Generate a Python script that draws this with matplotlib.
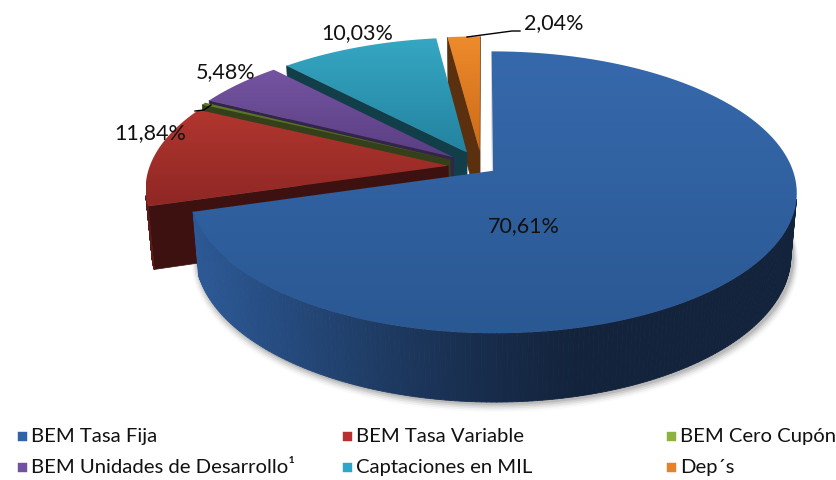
import numpy as np
import matplotlib.pyplot as plt
from matplotlib.patches import Polygon, Rectangle
from matplotlib.collections import PolyCollection
from matplotlib.colors import to_rgb

categories = ["BEM Tasa Fija", "BEM Tasa Variable", "BEM Cero Cupón",
              "BEM Unidades de Desarrollo¹", "Captaciones en MIL", "Dep´s"]
values = [70.61, 11.84, 0.30, 5.48, 10.03, 2.04]
labels = ["70,61%", "11,84%", "", "5,48%", "10,03%", "2,04%"]

# how far each slice is pulled out (disk radius = 1)
explode = [0.046, 0.114, 0.12, 0.12, 0.12, 0.12]

# top face gradient (upper, lower), side colours (lit, dark), radial face
top_hi = ["#3669AC", "#B2362F", "#5E7A26", "#7554A2", "#36A7C3", "#EE8B2C"]
top_lo = ["#2A5893", "#8F2724", "#4A6020", "#5A3E82", "#2383A0", "#CC6A18"]
side_lit = ["#2C5996", "#5A1A18", "#45541E", "#4A3466", "#1D5868", "#7A4214"]
side_dark = ["#13233C", "#3A0F0F", "#2E3914", "#2E1F42", "#103842", "#52290C"]
face_col = ["#D9D9D9", "#3E1111", "#33401A", "#34244A", "#123E4A", "#5A300F"]
legend_col = ["#2F64A8", "#B5302E", "#8DB23F", "#7450A0", "#2FA5C8", "#E8822A"]

# view parameters (pixels)
ALPHA = np.radians(27.2)
DIST = 5.85
FOCAL = 1747
CX, CY = 482, 168
THICK = 0.235
CAM = np.array([0.0, -DIST * np.cos(ALPHA), DIST * np.sin(ALPHA)])

FONT = ["Lato", "DejaVu Sans"]


def project(X, Y, Z):
    X, Y, Z = np.asarray(X, float), np.asarray(Y, float), np.asarray(Z, float)
    d = DIST + Y * np.cos(ALPHA) - Z * np.sin(ALPHA)
    yc = Y * np.sin(ALPHA) + Z * np.cos(ALPHA)
    return CX + FOCAL * X / d, CY - FOCAL * yc / d


def facing(px, py, phi):
    return np.cos(phi) * (CAM[0] - px) + np.sin(phi) * (CAM[1] - py) > 0


def mix(c1, c2, w):
    a, b = np.array(to_rgb(c1)), np.array(to_rgb(c2))
    return tuple(a * w + b * (1 - w))


fig = plt.figure(figsize=(8.37, 4.81), dpi=100)
ax = fig.add_axes([0, 0, 1, 1])
ax.set_xlim(0, 837)
ax.set_ylim(481, 0)
ax.axis("off")

total = sum(values)
fr = np.array(values) / total
cum = np.concatenate([[0], np.cumsum(fr)[:-1]])
theta_e = np.radians(90 - 360 * cum)
theta_s = theta_e - np.radians(360 * fr)
mids = (theta_s + theta_e) / 2

# soft shadow under the front slice
i0 = int(np.argmin(np.sin(mids)))
ox0 = explode[i0] * np.cos(mids[i0])
oy0 = explode[i0] * np.sin(mids[i0])
ts_sh = np.linspace(np.radians(190), np.radians(360), 200)
for k, a in enumerate(np.linspace(0.10, 0.02, 5)):
    grow = 1 + 0.004 * (k + 1)
    sx, sy = project(ox0 + grow * np.cos(ts_sh), oy0 + grow * np.sin(ts_sh),
                     np.full_like(ts_sh, -THICK))
    sx2, sy2 = project(ox0 + 0.8 * np.cos(ts_sh[::-1]), oy0 + 0.8 * np.sin(ts_sh[::-1]),
                       np.full_like(ts_sh, -THICK))
    ax.add_patch(Polygon(np.c_[np.r_[sx, sx2] + 2, np.r_[sy, sy2] + 2 + k],
                         closed=True, fc="black", ec="none", alpha=a, zorder=0.5))

order = np.argsort(-np.sin(mids))
z = 1
for i in order:
    ts, te, m = theta_s[i], theta_e[i], mids[i]
    ox, oy = explode[i] * np.cos(m), explode[i] * np.sin(m)

    # radial faces
    for ang, nrm in ((ts, ts - np.pi / 2), (te, te + np.pi / 2)):
        if facing(ox + 0.5 * np.cos(ang), oy + 0.5 * np.sin(ang), nrm):
            X = [ox, ox + np.cos(ang), ox + np.cos(ang), ox]
            Y = [oy, oy + np.sin(ang), oy + np.sin(ang), oy]
            Zs = [0, 0, -THICK, -THICK]
            sx, sy = project(X, Y, Zs)
            ax.add_patch(Polygon(np.c_[sx, sy], closed=True, fc=face_col[i],
                                 ec=face_col[i], lw=0.5, zorder=z))
            z += 1

    # outer rim
    t = np.linspace(ts, te, 300)
    quads, cols = [], []
    for a0, a1 in zip(t[:-1], t[1:]):
        am = (a0 + a1) / 2
        if not facing(ox + np.cos(am), oy + np.sin(am), am):
            continue
        X = [ox + np.cos(a0), ox + np.cos(a1), ox + np.cos(a1), ox + np.cos(a0)]
        Y = [oy + np.sin(a0), oy + np.sin(a1), oy + np.sin(a1), oy + np.sin(a0)]
        sx, sy = project(X, Y, [0, 0, -THICK, -THICK])
        quads.append(np.c_[sx, sy])
        w = max(0.0, np.cos(am - np.radians(195))) ** 1.4
        cols.append(mix(side_lit[i], side_dark[i], w))
    if quads:
        ax.add_collection(PolyCollection(quads, facecolors=cols, edgecolors=cols,
                                         linewidths=0.6, zorder=z))
        z += 1

    # top face with vertical gradient
    tt = np.linspace(ts, te, 200)
    X = np.concatenate([[ox], ox + np.cos(tt)])
    Y = np.concatenate([[oy], oy + np.sin(tt)])
    sx, sy = project(X, Y, np.zeros_like(X))
    poly = Polygon(np.c_[sx, sy], closed=True, fc="none", ec="none", zorder=z)
    ax.add_patch(poly)
    grad = np.linspace(0, 1, 256)[:, None, None]
    img = np.array(to_rgb(top_hi[i]))[None, None, :] * (1 - grad) + \
        np.array(to_rgb(top_lo[i]))[None, None, :] * grad
    im = ax.imshow(img, extent=(sx.min(), sx.max(), sy.max(), sy.min()),
                   origin="upper", aspect="auto", zorder=z, interpolation="bilinear")
    im.set_clip_path(poly)
    z += 1

ax.set_xlim(0, 837)
ax.set_ylim(481, 0)

# data labels
label_pos = [(524, 226), (150, 133), None, (226, 72), (357, 33), (554, 23)]
for lab, pos in zip(labels, label_pos):
    if pos is None or not lab:
        continue
    ax.text(pos[0], pos[1], lab, ha="center", va="center", fontsize=15.5,
            family=FONT, color="#111111", zorder=z + 5)

# leader lines
ax.plot([467, 512, 520], [38, 32, 32], color="black", lw=1.0, zorder=z + 5)
ax.plot([195, 204, 211], [112, 111, 106], color="black", lw=1.0, zorder=z + 5)

# legend
leg_x = [18, 343, 667]
leg_y = [437, 468]
for k, (name, col) in enumerate(zip(categories, legend_col)):
    x = leg_x[k % 3]
    y = leg_y[k // 3]
    ax.add_patch(Rectangle((x, y - 4.5), 9, 9, fc=col, ec=col, lw=0.3, zorder=z + 5))
    ax.text(x + 13, y, name, ha="left", va="center", fontsize=14.6,
            family=FONT, color="#111111", zorder=z + 5)

fig.savefig("out.png", dpi=100, facecolor="white")
